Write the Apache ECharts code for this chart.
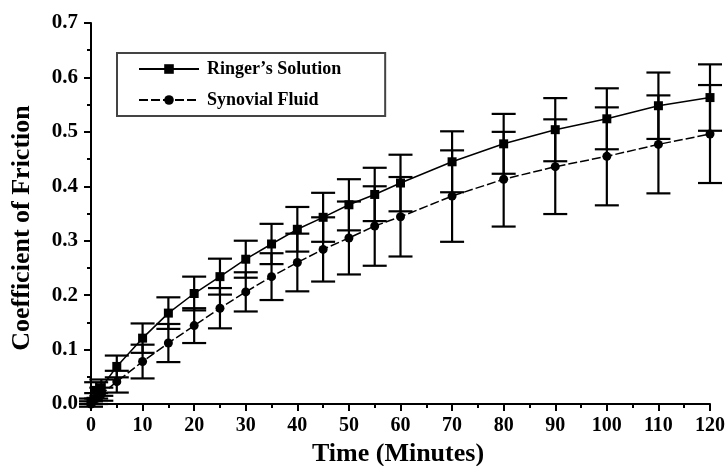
<!DOCTYPE html>
<html>
<head>
<meta charset="utf-8">
<script src="https://cdn.jsdelivr.net/npm/echarts@6/dist/echarts.min.js"></script>
<style>
html,body{margin:0;padding:0;background:#fff;}
#chart{width:728px;height:466px;}
</style>
</head>
<body>
<div id="chart"></div>
<script>
const times = [0, 1, 2, 5, 10, 15, 20, 25, 30, 35, 40, 45, 50, 55, 60, 70, 80, 90, 100, 110, 120];
const ringer = [0.005, 0.025, 0.030, 0.069, 0.121, 0.167, 0.203, 0.234, 0.266, 0.294, 0.321, 0.343, 0.366, 0.385, 0.406, 0.445, 0.478, 0.504, 0.524, 0.548, 0.563];
const ringerErr = [0.005, 0.015, 0.015, 0.020, 0.027, 0.029, 0.031, 0.033, 0.034, 0.037, 0.041, 0.045, 0.047, 0.049, 0.052, 0.056, 0.055, 0.058, 0.056, 0.061, 0.061];
const synovial = [0.000, 0.010, 0.018, 0.041, 0.078, 0.112, 0.144, 0.176, 0.206, 0.234, 0.260, 0.284, 0.305, 0.327, 0.344, 0.382, 0.413, 0.436, 0.455, 0.477, 0.496];
const synovialErr = [0.005, 0.010, 0.012, 0.020, 0.031, 0.035, 0.032, 0.037, 0.036, 0.043, 0.053, 0.059, 0.067, 0.073, 0.073, 0.084, 0.087, 0.087, 0.090, 0.090, 0.090];
const seriesNames = ["Ringer\u2019s Solution", "Synovial Fluid"];
const xTitle = "Time (Minutes)";
const yTitle = "Coefficient of Friction";

const FONT = '"Liberation Serif", "Times New Roman", serif';

function pairs(xs, ys) { return xs.map((x, i) => [x, ys[i]]); }
function errData(xs, ys, es) { return xs.map((x, i) => [x, ys[i] - es[i], ys[i] + es[i]]); }

function errorRender(params, api) {
  const x = api.value(0);
  const lo = api.coord([x, api.value(1)]);
  const hi = api.coord([x, api.value(2)]);
  const hw = 12;
  const st = { stroke: '#000', lineWidth: 2.2 };
  return {
    type: 'group',
    children: [
      { type: 'line', shape: { x1: lo[0], y1: lo[1], x2: hi[0], y2: hi[1] }, style: st },
      { type: 'line', shape: { x1: lo[0] - hw, y1: lo[1], x2: lo[0] + hw, y2: lo[1] }, style: st },
      { type: 'line', shape: { x1: hi[0] - hw, y1: hi[1], x2: hi[0] + hw, y2: hi[1] }, style: st }
    ]
  };
}

const chart = echarts.init(document.getElementById('chart'), null, { renderer: 'canvas' });
const axisCommon = {
  axisLine: { show: true, lineStyle: { color: '#000', width: 2 } },
  axisTick: { show: true, inside: false, length: 7, lineStyle: { color: '#000', width: 2 } },
  minorTick: { show: true, splitNumber: 2, length: 4, lineStyle: { color: '#000', width: 2 } },
  splitLine: { show: false },
  minorSplitLine: { show: false }
};
chart.setOption({
  animation: false,
  backgroundColor: '#fff',
  grid: { left: 91, right: 15, top: 23, bottom: 62, containLabel: false },
  xAxis: Object.assign({
    type: 'value', min: 0, max: 120, interval: 10,
    axisLabel: { margin: 12, color: '#000', fontFamily: FONT, fontWeight: 'bold', fontSize: 20 }
  }, axisCommon),
  yAxis: Object.assign({
    type: 'value', min: 0, max: 0.7, interval: 0.1,
    axisLabel: { margin: 13, color: '#000', fontFamily: FONT, fontWeight: 'bold', fontSize: 21,
      formatter: v => v.toFixed(1) }
  }, axisCommon),
  legend: {
    left: 117, top: 53,
    orient: 'vertical',
    padding: [6, 44, 6, 21],
    borderColor: '#444', borderWidth: 2,
    itemWidth: 60, itemHeight: 12, itemGap: 11,
    data: seriesNames,
    textStyle: { color: '#000', fontFamily: FONT, fontWeight: 'bold', fontSize: 18, lineHeight: 20, padding: [0, 0, 0, 3] }
  },
  graphic: [
    { type: 'text', x: 22, y: 228, rotation: Math.PI / 2,
      style: { text: yTitle, font: 'bold 26px ' + FONT, fill: '#000', align: 'center', verticalAlign: 'middle' } },
    { type: 'text', x: 398, y: 454,
      style: { text: xTitle, font: 'bold 26px ' + FONT, fill: '#000', align: 'center', verticalAlign: 'middle' } }
  ],
  series: [
    { type: 'custom', name: 'ringerErr', renderItem: errorRender, data: errData(times, ringer, ringerErr), z: 2, silent: true },
    { type: 'custom', name: 'synErr', renderItem: errorRender, data: errData(times, synovial, synovialErr), z: 2, silent: true },
    { type: 'line', name: seriesNames[0], data: pairs(times, ringer), symbol: 'rect', symbolSize: 9,
      itemStyle: { color: '#000' }, lineStyle: { color: '#000', width: 1.5 }, z: 3 },
    { type: 'line', name: seriesNames[1], data: pairs(times, synovial), symbol: 'circle', symbolSize: 9,
      itemStyle: { color: '#000' }, lineStyle: { color: '#000', width: 1.5, type: [9, 3] }, z: 3 }
  ]
});
</script>
</body>
</html>
